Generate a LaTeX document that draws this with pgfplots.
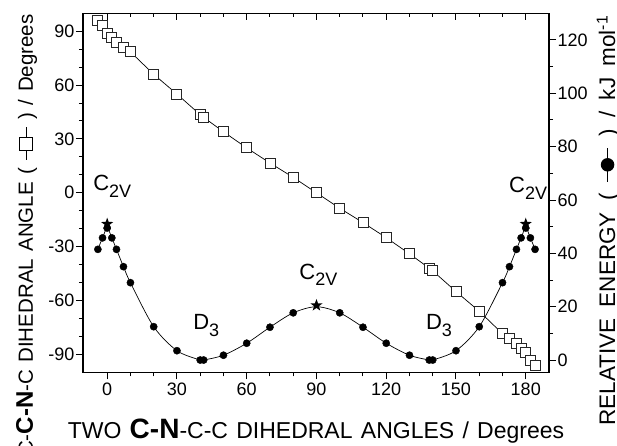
\documentclass[border=0pt]{standalone}
\usepackage{pgfplots}
\pgfplotsset{compat=1.18}
\usepackage{fontspec}
\setmainfont{Liberation Sans}[WordSpace=1.8]
\newfontfamily\wideA{Liberation Sans}[WordSpace=2.4]
\newfontfamily\wideL{Liberation Sans}[WordSpace=1.3]
\newcommand{\tickfont}{\fontsize{18bp}{20bp}\selectfont}
\newcommand{\annot}[2]{{\fontsize{22bp}{22bp}\selectfont #1\raisebox{-0.3em}{\fontsize{18bp}{18bp}\selectfont #2}}}
\newcommand{\symsq}{\tikz[baseline={(0,-0.33em)}]{\draw[line width=0.8pt] (0,0)--(1.6em,0); \draw[line width=0.8pt, fill=white] (0.48em,-0.32em) rectangle (1.12em,0.32em);}}
\newcommand{\symci}{\tikz[baseline={(0,-0.33em)}]{\draw[line width=0.8pt] (0,0)--(1.5em,0); \fill (0.75em,0) circle (0.3em);}}
\pgfdeclareplotmark{fstar}{%
  \pgfpathmoveto{\pgfpointpolar{90}{\pgfplotmarksize}}%
  \pgfpathlineto{\pgfpointpolar{126}{0.4\pgfplotmarksize}}%
  \pgfpathlineto{\pgfpointpolar{162}{\pgfplotmarksize}}%
  \pgfpathlineto{\pgfpointpolar{198}{0.4\pgfplotmarksize}}%
  \pgfpathlineto{\pgfpointpolar{234}{\pgfplotmarksize}}%
  \pgfpathlineto{\pgfpointpolar{270}{0.4\pgfplotmarksize}}%
  \pgfpathlineto{\pgfpointpolar{306}{\pgfplotmarksize}}%
  \pgfpathlineto{\pgfpointpolar{342}{0.4\pgfplotmarksize}}%
  \pgfpathlineto{\pgfpointpolar{18}{\pgfplotmarksize}}%
  \pgfpathlineto{\pgfpointpolar{54}{0.4\pgfplotmarksize}}%
  \pgfpathclose\pgfusepathqfill}
\pgfplotsset{
  common/.style={scale only axis, width=466bp, height=359bp,
    xmin=-10.4, xmax=190,
    /pgf/number format/assume math mode=true,
    tick label style={font=\tickfont, black},
    major tick length=7bp, minor tick length=4bp,
    tick style={line width=1pt, black},
    axis line style={line width=1.1pt, black, -},
    clip=false}
}
\begin{document}
\begin{tikzpicture}
\useasboundingbox (-83bp,-73.7bp) rectangle (534bp,372.3bp);
% left axis: dihedral angle
\begin{axis}[common,
  ymin=-100, ymax=100,
  xtick={0,30,...,180}, ytick={-90,-60,...,90},
  minor x tick num=2, minor y tick num=2,
  xtick pos=bottom, ytick pos=left, tick align=outside,
  yticklabel style={inner sep=1.5bp},
  xticklabel style={inner sep=3bp}]
\addplot[black, line width=0.7pt, mark=square*, mark size=5bp,
  mark options={solid, fill=white, draw=black!85, line width=0.9pt}]
  coordinates {
  (-4,96) (-2,93.5) (0,89) (2,86.5) (4,84) (7,81) (10,78.5) (20,66)
  (30,55) (40,43.5) (41.5,42) (50,34) (60,25) (70,16.6) (80,8.6) (90,0)
  (100,-8.6) (110,-16.6) (120,-25) (130,-34) (138.5,-42) (140,-43.5)
  (150,-55) (160,-66) (170,-78.5) (173,-81) (176,-84) (178,-86.5)
  (180,-89) (182,-93.5) (184,-96)};
\node at (axis cs:2.2,3.6) {\annot{C}{2V}};
\node at (axis cs:90.8,-45.6) {\annot{C}{2V}};
\node at (axis cs:181,2.4) {\annot{C}{2V}};
\node at (axis cs:42.6,-74) {\annot{D}{3}};
\node at (axis cs:142.7,-74) {\annot{D}{3}};
\end{axis}
% top ticks, inward
\begin{axis}[common,
  ymin=-100, ymax=100,
  axis x line*=top, axis y line=none,
  xtick={0,30,...,180}, minor x tick num=2,
  xticklabels={}, tick align=inside]
\end{axis}
% right axis: relative energy
\begin{axis}[common,
  ymin=-4.6, ymax=130,
  axis x line=none, axis y line*=right,
  ytick={0,20,...,120}, minor y tick num=1,
  tick align=outside,
  yticklabel style={inner sep=1.5bp}]
\addplot[black, line width=0.7pt, smooth, tension=0.5] coordinates {
  (-4,41.5) (-2,45.8) (0,49.5) (2,45.8) (4,41.5) (7,35) (10,29) (20,12.5)
  (30,3.5) (40,0) (41.5,0) (50,1.8) (60,6.3) (70,12.3) (80,17.7) (90,20)
  (100,17.7) (110,12.3) (120,6.3) (130,1.8) (138.5,0) (140,0) (150,3.5)
  (160,12.5) (170,29) (173,35) (176,41.5) (178,45.8) (180,49.5) (182,45.8)
  (184,41.5)};
\addplot[only marks, mark=*, mark size=3.6bp, black] coordinates {
  (-4,41.5) (-2,45.8) (0,49.5) (2,45.8) (4,41.5) (7,35) (10,29) (20,12.5)
  (30,3.5) (40,0) (41.5,0) (50,1.8) (60,6.3) (70,12.3) (80,17.7)
  (100,17.7) (110,12.3) (120,6.3) (130,1.8) (138.5,0) (140,0) (150,3.5)
  (160,12.5) (170,29) (173,35) (176,41.5) (178,45.8) (180,49.5) (182,45.8)
  (184,41.5)};
\addplot[only marks, mark=fstar, mark size=6.4bp, black] coordinates {
  (0,51) (90,20.5) (180,51)};
\end{axis}
% axis titles
\node[font=\wideA\fontsize{23bp}{25bp}\selectfont, anchor=base] at (233bp,-66.5bp)
  {TWO {\fontsize{28bp}{28bp}\selectfont\bfseries C-N}-C-C DIHEDRAL ANGLES / Degrees};
\node[font=\wideL\fontsize{20.5bp}{24bp}\selectfont, rotate=90, anchor=base east, inner sep=0pt] at (-50bp,358bp)
  {C-{\fontsize{24bp}{24bp}\selectfont\bfseries C-N}-C DIHEDRAL ANGLE ( \symsq\ ) / Degrees};
\node[font=\fontsize{22.5bp}{24bp}\selectfont, rotate=90, anchor=base east, inner sep=0pt] at (532bp,357bp)
  {RELATIVE ENERGY ( \symci\ ) / kJ mol\textsuperscript{-1}};
\end{tikzpicture}
\end{document}
